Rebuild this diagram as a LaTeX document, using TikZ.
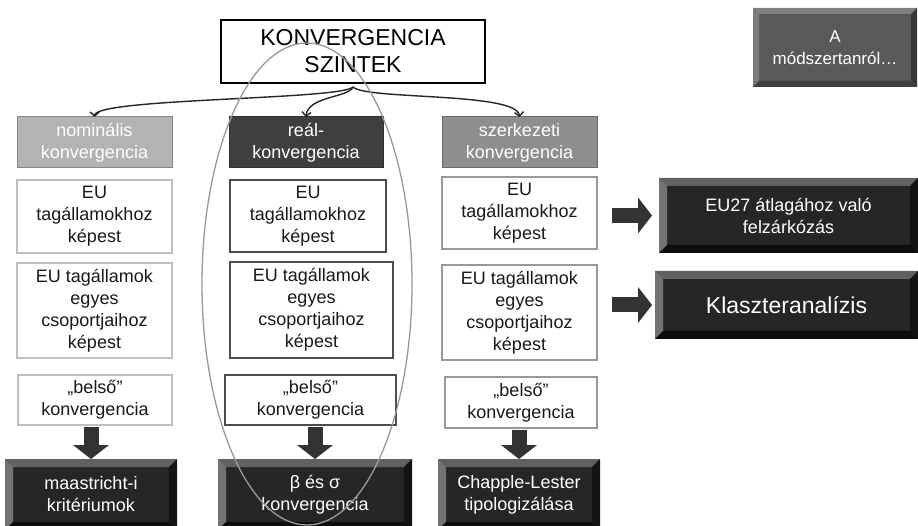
\documentclass[tikz,border=0pt]{standalone}
\usepackage{fontspec}
\setmainfont{Liberation Sans}
\usetikzlibrary{arrows.meta}
\definecolor{hdrA}{HTML}{B3B3B3}
\definecolor{hdrB}{HTML}{3F3F3F}
\definecolor{hdrC}{HTML}{8E8E8E}
\definecolor{dark}{HTML}{262626}
\definecolor{blk}{HTML}{333333}
\tikzset{
  every node/.style={inner sep=0pt, outer sep=0pt, align=center},
  txt/.style={font=\fontsize{18}{22}\selectfont, text=black!90},
  hdr/.style={draw=#1!75!black, fill=#1, line width=1pt, text=white, font=\fontsize{18}{22}\selectfont, minimum height=51pt},
  wboxL/.style={txt, draw=black!25, line width=1.2pt, fill=white},
  wboxM/.style={txt, draw=black!70, line width=1.4pt, fill=white},
  wboxR/.style={txt, draw=black!40, line width=1.2pt, fill=white},
  bev/.style n args={6}{fill=#1, text=white, path picture={
     \fill[#2] (path picture bounding box.north west) -- (path picture bounding box.north east)
        -- ([xshift=-#6,yshift=-#6]path picture bounding box.north east) -- ([xshift=#6,yshift=-#6]path picture bounding box.north west) -- cycle;
     \fill[#3] (path picture bounding box.north west) -- ([xshift=#6,yshift=-#6]path picture bounding box.north west)
        -- ([xshift=#6,yshift=#6]path picture bounding box.south west) -- (path picture bounding box.south west) -- cycle;
     \fill[#4] (path picture bounding box.north east) -- ([xshift=-#6,yshift=-#6]path picture bounding box.north east)
        -- ([xshift=-#6,yshift=#6]path picture bounding box.south east) -- (path picture bounding box.south east) -- cycle;
     \fill[#5] (path picture bounding box.south west) -- ([xshift=#6,yshift=#6]path picture bounding box.south west)
        -- ([xshift=-#6,yshift=#6]path picture bounding box.south east) -- (path picture bounding box.south east) -- cycle;
  }},
  darkbev/.style={bev={dark}{black!62}{black!55}{black!92}{black!95}{8pt}, font=\fontsize{18}{22}\selectfont},
  greybev/.style={bev={black!65}{black!50}{black!52}{black!78}{black!75}{6pt}, font=\fontsize{17}{22}\selectfont},
  brace/.style={line width=1.4pt, draw=black!85, -{Straight Barb[length=4pt,width=9pt]}},
  block/.style={draw=blk, line width=15pt, -{Triangle[length=14pt,width=36pt,line width=0pt]}},
}
\begin{document}
\begin{tikzpicture}[x=1pt,y=-1pt]
\clip (0,0) rectangle (918,526);
\fill[white] (0,0) rectangle (918,526);

% title
\node[draw=black, line width=1.5pt, fill=white, minimum width=264pt, minimum height=63pt,
      font=\fontsize{23}{27}\selectfont] (title) at (353,51.5) {KONVERGENCIA\\SZINTEK};
\coordinate (br) at (353,87);

% headers
\node[hdr=hdrA, minimum width=155pt] (nom) at (94.5,142.5) {nominális\\konvergencia};
\node[hdr=hdrB, minimum width=154pt] (real) at (306,142.5) {reál-\\konvergencia};
\node[hdr=hdrC, minimum width=155pt] (szerk) at (519.5,142.5) {szerkezeti\\konvergencia};

% brace connectors
\draw[brace] (br) .. controls (340,100) and (95,98) .. (nom.north);
\draw[brace] (br) .. controls (348,98) and (308,96) .. (real.north);
\draw[brace] (br) .. controls (366,100) and (517,92) .. (szerk.north);

% row 1
\node[wboxL, minimum width=155pt, minimum height=73pt] (a1) at (94.5,216.5) {EU\\tagállamokhoz\\képest};
\node[wboxM, minimum width=156pt, minimum height=72pt] (b1) at (308,216) {EU\\tagállamokhoz\\képest};
\node[wboxR, minimum width=155pt, minimum height=72pt] (c1) at (519.5,213) {EU\\tagállamokhoz\\képest};
% row 2
\node[wboxL, minimum width=155pt, minimum height=95pt] (a2) at (94.5,310.5) {EU tagállamok\\egyes\\csoportjaihoz\\képest};
\node[wboxM, minimum width=163pt, minimum height=96pt] (b2) at (311.5,310) {EU tagállamok\\egyes\\csoportjaihoz\\képest};
\node[wboxR, minimum width=155pt, minimum height=95pt] (c2) at (519.5,312.5) {EU tagállamok\\egyes\\csoportjaihoz\\képest};
% row 3
\node[wboxL, minimum width=154pt, minimum height=50pt] (a3) at (95,400) {„belső”\\konvergencia};
\node[wboxM, minimum width=171pt, minimum height=50pt] (b3) at (310.5,400) {„belső”\\konvergencia};
\node[wboxR, minimum width=152pt, minimum height=51pt] (c3) at (521,402.5) {„belső”\\konvergencia};

% bottom dark boxes
\node[darkbev, minimum width=172pt, minimum height=71pt] (a4) at (91,494.5) {maastricht-i\\kritériumok};
\node[darkbev, minimum width=194pt, minimum height=71pt] (b4) at (315,494.5) {β és σ\\konvergencia};
\node[darkbev, minimum width=162pt, minimum height=71pt] (c4) at (519,494.5) {Chapple-Lester\\tipologizálása};

% right boxes
\node[darkbev, minimum width=259pt, minimum height=75pt] (eu27) at (788.5,215.5) {EU27 átlagához való\\felzárkózás};
\node[darkbev, minimum width=263pt, minimum height=68pt, font=\fontsize{23}{27}\selectfont] (klaszt) at (786.5,305) {Klaszteranalízis};
\node[greybev, minimum width=164pt, minimum height=79pt] (modsz) at (835,47.5) {A\\módszertanról…};

% block arrows
\draw[block, shorten <=2pt] (a4.north |- a3.south) -- (a4.north);
\draw[block, shorten <=2pt] (b4.north |- b3.south) -- (b4.north);
\draw[block, shorten <=2pt] (c4.north |- c3.south) -- (c4.north);
\draw[block, shorten <=15pt, shorten >=7pt] (c1.east |- eu27.west) -- (eu27.west);
\draw[block, shorten <=15pt, shorten >=3pt] (c2.east |- klaszt.west) -- (klaszt.west);

% ellipse
\draw[black!40, line width=1.3pt] (307,284) ellipse [x radius=105, y radius=241];
\end{tikzpicture}
\end{document}
